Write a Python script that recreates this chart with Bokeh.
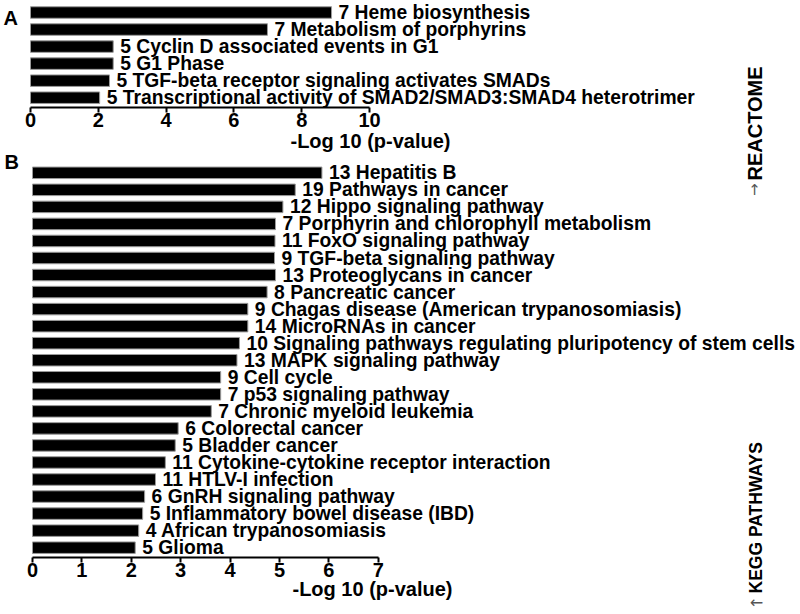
from bokeh.plotting import figure
from bokeh.models import Range1d, LabelSet, Label, ColumnDataSource, FixedTicker, LinearAxis
from bokeh.core.properties import value
from bokeh.embed import file_html
from bokeh.resources import INLINE
import math

# ---------------- data ----------------
reactome_terms = [
    "Heme biosynthesis",
    "Metabolism of porphyrins",
    "Cyclin D associated events in G1",
    "G1 Phase",
    "TGF-beta receptor signaling activates SMADs",
    "Transcriptional activity of SMAD2/SMAD3:SMAD4 heterotrimer",
]
reactome_counts = [7, 7, 5, 5, 5, 5]
reactome_logp = [8.88, 6.99, 2.44, 2.44, 2.33, 2.04]
reactome_ticks = [0, 2, 4, 6, 8, 10]

kegg_terms = [
    "Hepatitis B",
    "Pathways in cancer",
    "Hippo signaling pathway",
    "Porphyrin and chlorophyll metabolism",
    "FoxO signaling pathway",
    "TGF-beta signaling pathway",
    "Proteoglycans in cancer",
    "Pancreatic cancer",
    "Chagas disease (American trypanosomiasis)",
    "MicroRNAs in cancer",
    "Signaling pathways regulating pluripotency of stem cells",
    "MAPK signaling pathway",
    "Cell cycle",
    "p53 signaling pathway",
    "Chronic myeloid leukemia",
    "Colorectal cancer",
    "Bladder cancer",
    "Cytokine-cytokine receptor interaction",
    "HTLV-I infection",
    "GnRH signaling pathway",
    "Inflammatory bowel disease (IBD)",
    "African trypanosomiasis",
    "Glioma",
]
kegg_counts = [13, 19, 12, 7, 11, 9, 13, 8, 9, 14, 10, 13, 9, 7, 7, 6, 5, 11, 11, 6, 5, 4, 5]
kegg_logp = [5.86, 5.32, 5.07, 4.92, 4.91, 4.90, 4.92, 4.75, 4.36, 4.36, 4.19, 4.14,
             3.81, 3.81, 3.62, 2.95, 2.89, 2.69, 2.49, 2.27, 2.23, 2.15, 2.08]
kegg_ticks = [0, 1, 2, 3, 4, 5, 6, 7]

# ---------------- layout constants (pixels) ----------------
FONT = "Liberation Sans"
W, H = 800, 614
ROW = 17.04            # px per bar row
ROW0 = 12              # px of first REACTOME row
A_ZERO, A_UNIT = 30, 33.9
B_ZERO, B_UNIT = 32, 49.39
B_FIRST = 172.3        # px of first KEGG row
A_AXIS_Y, B_AXIS_Y = 107, 557

p = figure(width=W, height=H, output_backend="svg", toolbar_location=None,
           x_range=Range1d(-B_ZERO / B_UNIT, (W - B_ZERO) / B_UNIT),
           y_range=Range1d((H - ROW0) / ROW, -ROW0 / ROW),
           x_axis_location=None, y_axis_location=None, title=None,
           min_border=0, min_border_left=0, min_border_right=0,
           min_border_top=0, min_border_bottom=0)
p.extra_x_ranges = {"A": Range1d(-A_ZERO / A_UNIT, (W - A_ZERO) / A_UNIT)}
p.outline_line_color = None
p.background_fill_color = "white"
p.border_fill_color = "white"
p.grid.visible = False


def yrow(py):
    return (py - ROW0) / ROW


def bx(px):
    return (px - B_ZERO) / B_UNIT


def draw_panel(terms, counts, logp, ticks, first_row, axis_y, xname):
    kw = {} if xname is None else {"x_range_name": xname}
    ys = [yrow(first_row) + i for i in range(len(terms))]
    labels = [f"{c} {t}" for c, t in zip(counts, terms)]
    src = ColumnDataSource(dict(y=ys, v=logp, lab=labels))
    p.hbar(y="y", left=0, right="v", height=11.5 / ROW, source=src,
           fill_color="black", line_color="#9a9a9a", line_width=1, **kw)
    p.add_layout(LabelSet(x="v", y="y", text="lab", source=src, x_offset=7,
                          text_font=value(FONT), text_font_style="bold",
                          text_font_size="19.3px", text_color="black",
                          text_baseline="middle", text_align="left", **kw))
    ax = LinearAxis(fixed_location=yrow(axis_y), **kw)
    ax.bounds = (ticks[0], ticks[-1])
    ax.ticker = FixedTicker(ticks=ticks)
    ax.axis_line_width = 2
    ax.axis_line_color = "black"
    ax.major_tick_line_width = 2
    ax.major_tick_line_color = "black"
    ax.major_tick_out = 5
    ax.major_tick_in = 0
    ax.minor_tick_line_color = None
    ax.major_label_standoff = 0
    ax.major_label_text_font = FONT
    ax.major_label_text_font_style = "bold"
    ax.major_label_text_font_size = "20px"
    ax.major_label_text_color = "black"
    p.add_layout(ax, "below")


draw_panel(reactome_terms, reactome_counts, reactome_logp, reactome_ticks,
           ROW0, A_AXIS_Y, "A")
draw_panel(kegg_terms, kegg_counts, kegg_logp, kegg_ticks,
           B_FIRST, B_AXIS_Y, None)


def add_text(px, py, text, size, align="left", angle=0.0, bold=True,
             color="black", font=FONT):
    p.add_layout(Label(x=bx(px), y=yrow(py), text=text, text_font=font,
                       text_font_style="bold" if bold else "normal",
                       text_font_size=size, text_color=color, text_align=align,
                       text_baseline="middle", angle=angle))


# axis titles
add_text(370, 140, "-Log 10 (p-value)", "20px", align="center")
add_text(372, 588, "-Log 10 (p-value)", "20px", align="center")

# panel letters
add_text(3, 17, "A", "20px")
add_text(4, 161, "B", "20px")

# right side titles
add_text(754, 180, "REACTOME", "20px", angle=math.pi / 2)
add_text(754, 189, "\u2191", "15px", align="center", bold=False,
         color="#555555", font="DejaVu Sans")
add_text(755, 593, "KEGG PATHWAYS", "17.5px", angle=math.pi / 2)
add_text(756, 602, "\u2190", "16px", align="center", bold=False,
         color="#555555", font="DejaVu Sans")

open("out.html", "w").write(file_html(p, INLINE))
